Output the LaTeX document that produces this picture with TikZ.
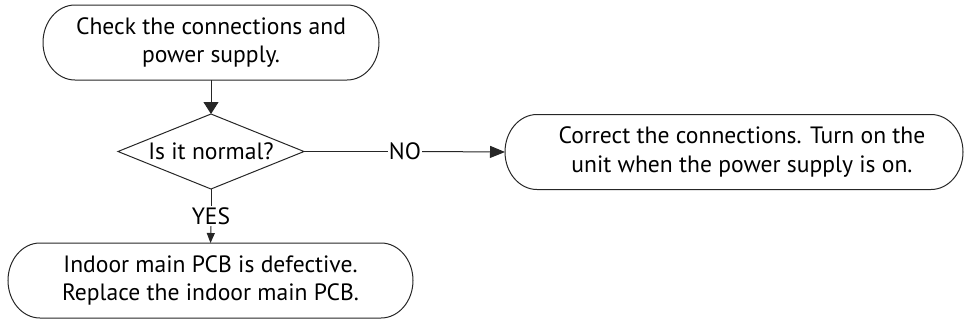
\documentclass[tikz,border=0pt]{standalone}
\usepackage{fontspec}
\setmainfont{PT Sans}
\usetikzlibrary{shapes.geometric,arrows.meta}
\newcommand\termframe[1]{%
  \draw[frameline] ([xshift=32pt]#1.north west) -- ([xshift=-32pt]#1.north east)
    arc[start angle=90,end angle=-90,x radius=32pt,y radius=37.5pt]
    -- ([xshift=32pt]#1.south west)
    arc[start angle=270,end angle=90,x radius=32pt,y radius=37.5pt] -- cycle;}
\begin{document}
\begin{tikzpicture}[x=1pt,y=-1pt,
  font=\fontsize{23.6}{28.5}\selectfont,
  frameline/.style={draw=black!85,line width=1pt},
  term/.style={draw=none,minimum height=75pt,inner sep=0pt,outer sep=0pt,align=center},
  txt/.style={inner sep=0pt,align=center},
  decision/.style={diamond,draw=black!85,line width=1pt,aspect=2.48,minimum width=186pt,minimum height=75pt,inner sep=0pt,outer sep=0pt},
  conn/.style={draw=black!85,line width=1pt},
  bigtip/.style={-{Triangle[length=12pt,width=15pt]}},
  midtip/.style={-{Triangle[length=15pt,width=12pt]}},
  smalltip/.style={-{Triangle[length=10pt,width=8pt]}}]
\useasboundingbox (0,0) rectangle (964,322);
\node[term,minimum width=336pt] (b1) at (211,42.5) {Check the connections and\\power supply.};
\termframe{b1}
\node[decision] (d) at (211,151.5) {Is it normal?};
\node[term,minimum width=458pt] (b2) at (734,152) {};
\termframe{b2}
\node[txt] (b2t) at (742,152) {Correct the connections. Turn on the\\unit when the power supply is on.};
\node[term,minimum width=405pt] (b3) at (210.5,280.5) {Indoor main PCB is defective.\\Replace the indoor main PCB.};
\termframe{b3}
\node[txt,inner sep=1pt] (no) at (405,151.5) {NO};
\node[txt,inner sep=1.5pt] (yes) at (211,216) {YES};
\draw[conn,bigtip] (b1.south) -- (d.north);
\draw[conn] (d.east) -- (no.west);
\draw[conn,midtip] (no.east) -- (b2.west);
\draw[conn] (d.south) -- (yes.north);
\draw[conn,smalltip] (yes.south) -- (b3.north);
\end{tikzpicture}
\end{document}
